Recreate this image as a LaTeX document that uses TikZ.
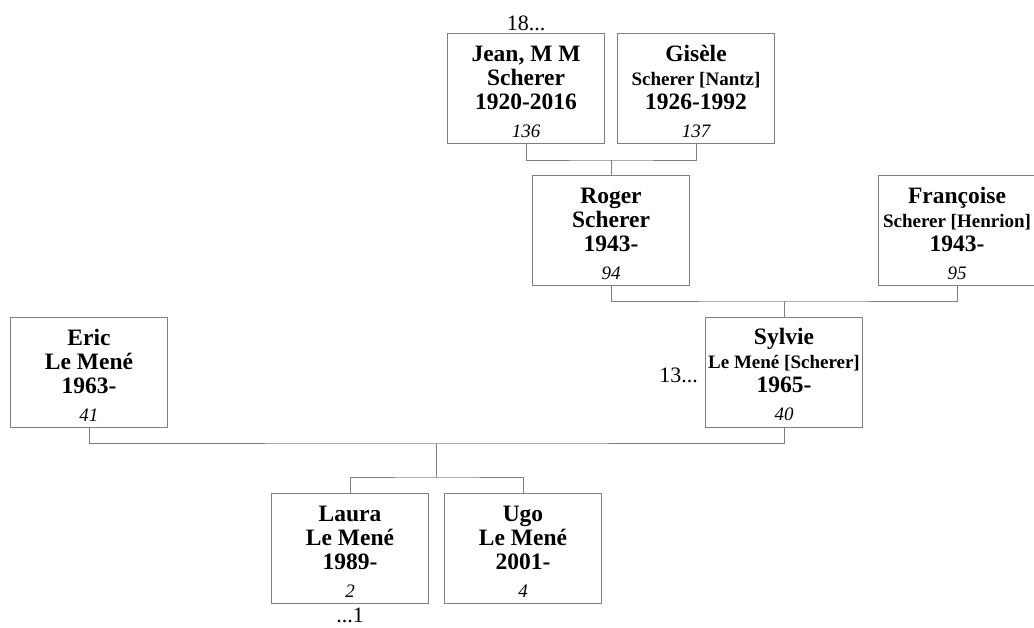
\documentclass[tikz,border=0pt]{standalone}
\usepackage{fontspec}
\setmainfont{Liberation Serif}
\usetikzlibrary{positioning}
\tikzset{person/.style={
		draw=gray, line width=1pt, rectangle,
		minimum width=157pt, minimum height=110pt,
		inner sep=0pt, align=center,
		font=\fontsize{23.5}{24}\selectfont\bfseries}}
\tikzset{link/.style={draw=gray, line width=1pt}}
\tikzset{note/.style={font=\fontsize{22}{24}\selectfont, inner sep=2pt}}
\newcommand{\entry}[4]{\rule{0pt}{22pt}#1\\#2\\#3\\[4pt]{\mdseries\itshape\fontsize{19}{24}\selectfont #4}}
\newcommand{\maiden}[1]{{\fontsize{19}{24}\selectfont #1}}

\begin{document}
\begin{tikzpicture}[x=1pt, y=-1pt]
  \useasboundingbox (0,0) rectangle (1034,627);

  \node[person] (jean) at (526,88.5) {\entry{Jean, M M}{Scherer}{1920-2016}{136}};
  \node[person] (gisele) at (696,88.5) {\entry{Gisèle}{\maiden{Scherer [Nantz]}}{1926-1992}{137}};
  \node[person] (roger) at (611,230.5) {\entry{Roger}{Scherer}{1943-}{94}};
  \node[person] (francoise) at (957,230.5) {\entry{Françoise}{\maiden{Scherer [Henrion]}}{1943-}{95}};
  \node[person] (eric) at (89,372) {\entry{Eric}{Le Mené}{1963-}{41}};
  \node[person] (sylvie) at (784,372) {\entry{Sylvie}{\maiden{Le Mené [Scherer]}}{1965-}{40}};
  \node[person] (laura) at (350,548) {\entry{Laura}{Le Mené}{1989-}{2}};
  \node[person] (ugo) at (523,548) {\entry{Ugo}{Le Mené}{2001-}{4}};

  \node[note, above=0pt of jean] (up) {18...};
  \node[note, left=5pt of sylvie, yshift=-3pt] (sib) {13...};
  \node[note, below=2pt of laura] (down) {...1};

  % couples and children
  \coordinate (m1) at (611,160);
  \coordinate (m2) at (784,301);
  \coordinate (m3) at (436.5,443);
  \coordinate (kids) at (436.5,477);

  \draw[link] (jean.south) |- (m1) -| (gisele.south);
  \draw[link] (m1) -- (roger.north);
  \draw[link] (roger.south) |- (m2) -| (francoise.south);
  \draw[link] (m2) -- (sylvie.north);
  \draw[link] (eric.south) |- (m3) -| (sylvie.south);
  \draw[link] (m3) -- (kids);
  \draw[link] (laura.north) |- (kids) -| (ugo.north);
\end{tikzpicture}
\end{document}
